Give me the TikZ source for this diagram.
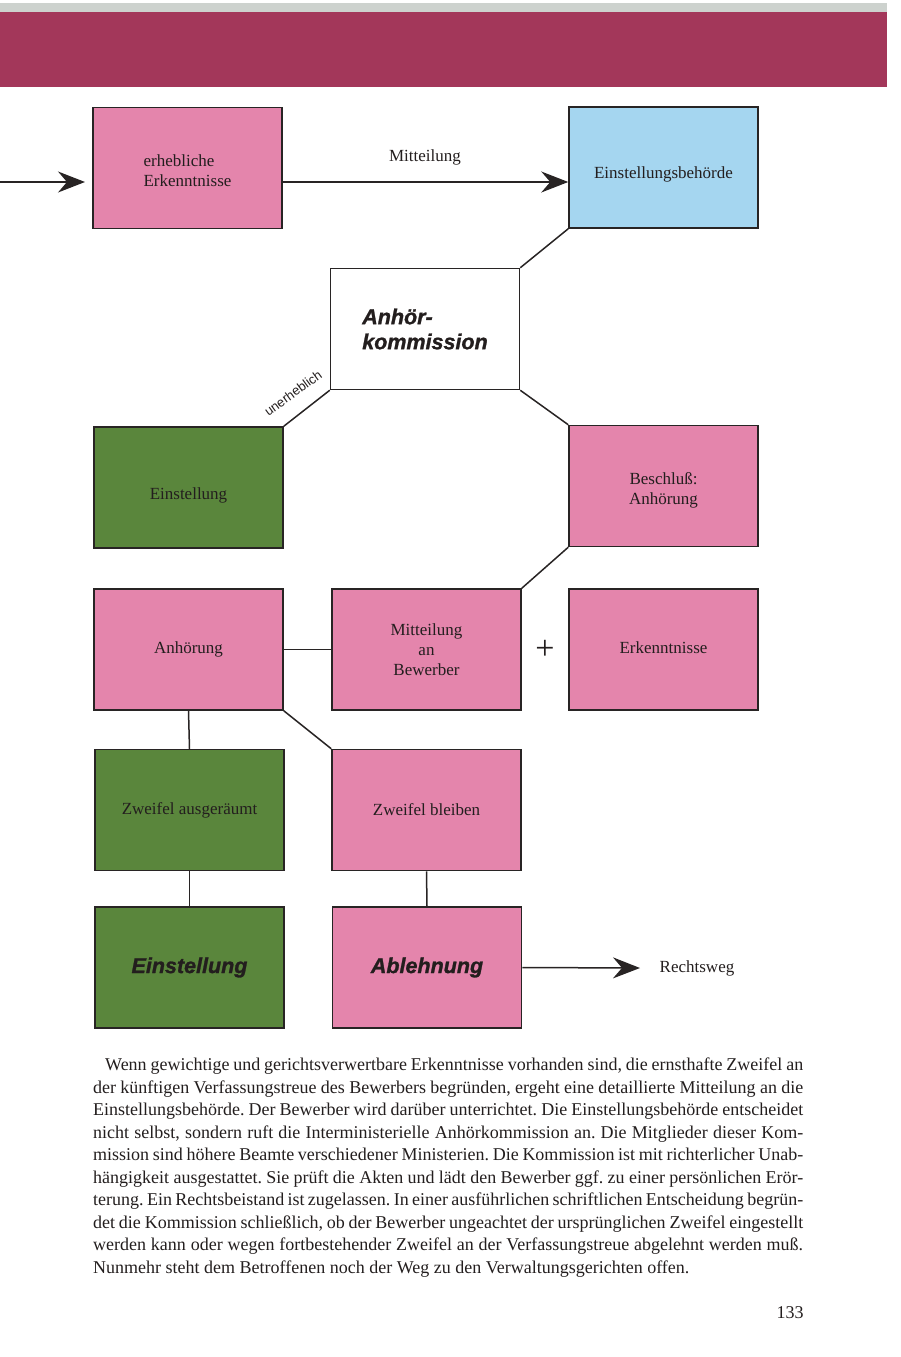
\documentclass[tikz,border=0pt]{standalone}
\usepackage{fontspec}
\setmainfont{Liberation Serif}
\newfontfamily\helv{Liberation Sans}
\newfontfamily\helvblk{Liberation Sans Bold Italic}[FakeBold=1.2]
\usetikzlibrary{arrows.meta}
\definecolor{barc}{RGB}{163,55,90}
\definecolor{stripc}{RGB}{205,210,206}
\definecolor{pinkc}{RGB}{228,133,172}
\definecolor{bluec}{RGB}{165,214,240}
\definecolor{greenc}{RGB}{90,134,60}
\definecolor{edgec}{RGB}{40,36,36}
\definecolor{txtc}{RGB}{35,30,30}
\newcommand{\lowered}[2]{\raisebox{-#1}[\height][\depth]{#2}}
\tikzset{
  box/.style={draw=edgec, line width=1.5pt, minimum width=189pt, minimum height=121pt,
    inner sep=0pt, text=txtc, font=\fontsize{17}{20}\selectfont, align=center},
  pinkbox/.style={box, fill=pinkc},
  greenbox/.style={box, fill=greenc},
  bluebox/.style={box, fill=bluec},
  whitebox/.style={box, fill=white},
  heavy/.style={font=\helvblk\fontsize{21.5}{25}\selectfont},
  conn/.style={draw=edgec, line width=1.5pt},
  arr/.style={conn, -{Stealth[length=27pt, width=21pt, inset=9pt]}},
  lbl/.style={text=txtc, inner sep=0pt, font=\fontsize{17}{20}\selectfont}
}
\begin{document}
\begin{tikzpicture}[x=1pt,y=-1pt]
\useasboundingbox (0,0) rectangle (900,1357);
\fill[stripc] (0,3) rectangle (887,12);
\fill[barc] (0,12) rectangle (887,87);

\node[pinkbox] (b1) at (187.5,168) {\lowered{4pt}{\begin{tabular}{@{}l@{}}erhebliche\\Erkenntnisse\end{tabular}}};
\node[bluebox] (b2) at (663.5,167.5) {\lowered{7pt}{Einstellungsbehörde}};
\node[whitebox, heavy, align=left] (b3) at (425,329) {Anhör-\\kommission};
\node[greenbox] (b4) at (188.5,487.5) {\lowered{8pt}{Einstellung}};
\node[pinkbox] (b5) at (663.5,486) {\lowered{4pt}{\begin{tabular}{@{}c@{}}Beschluß:\\Anhörung\end{tabular}}};
\node[pinkbox] (b6) at (188.5,649.5) {Anhörung};
\node[pinkbox] (b7) at (426.5,649.5) {Mitteilung\\an\\Bewerber};
\node[pinkbox] (b8) at (663.5,649.5) {\lowered{-2pt}{Erkenntnisse}};
\node[greenbox] (b9) at (189.5,810) {Zweifel ausgeräumt};
\node[pinkbox] (b10) at (426.5,810) {Zweifel bleiben};
\node[greenbox, heavy] (b11) at (189.5,967.5) {Einstellung};
\node[pinkbox, heavy] (b12) at (427,967.5) {Ablehnung};

\coordinate (start) at (0,182);
\coordinate (tip1) at (85,182);
\coordinate (tip3) at (640,968);
\draw[arr] (start) -- (tip1);
\draw[arr] (b1.east |- start) -- (b2.west |- start);
\node[lbl] (mit) at (425,157) {Mitteilung};

\draw[conn] (b2.south west) -- (b3.north east);
\draw[conn] (b3.south west) -- (b4.north east);
\node[text=txtc, inner sep=0pt, rotate=36, font=\helv\fontsize{13}{15}\selectfont] (uner) at (293,393) {unerheblich};
\draw[conn] (b3.south east) -- (b5.north west);
\draw[conn] (b5.south west) -- (b7.north east);
\draw[conn] (b6.east) -- (b7.west);
\node[text=txtc, inner sep=0pt, font=\fontsize{34}{34}\selectfont] (plus) at (545,650) {+};
\draw[conn] (b6.south) -- (b9.north);
\draw[conn] (b6.south east) -- (b10.north west);
\draw[conn] (b9.south) -- (b11.north);
\draw[conn] (b10.south) -- (b12.north);
\draw[arr] (b12.east) -- (tip3);
\node[lbl] (rw) at (697,968) {Rechtsweg};

\node[anchor=north west, inner sep=0pt, text width=710pt, align=justify, text=txtc,
  font=\fontsize{18}{22.5}\selectfont] (body) at (93,1055) {%
\frenchspacing\tolerance=10000\emergencystretch=20pt\hyphenpenalty=10000
\spaceskip=0.25em plus 0.25em minus 0.12em\parindent=12pt\indent\strut
Wenn gewichtige und gerichtsverwertbare Erkenntnisse vorhanden sind, die ernsthafte Zweifel an\linebreak
der künftigen Verfassungstreue des Bewerbers begründen, ergeht eine detaillierte Mitteilung an die\linebreak
Einstellungsbehörde. Der Bewerber wird darüber unterrichtet. Die Einstellungsbehörde entscheidet\linebreak
nicht selbst, sondern ruft die Interministerielle Anhörkommission an. Die Mitglieder dieser Kom-\linebreak
mission sind höhere Beamte verschiedener Ministerien. Die Kommission ist mit richterlicher Unab-\linebreak
hängigkeit ausgestattet. Sie prüft die Akten und lädt den Bewerber ggf. zu einer persönlichen Erör-\linebreak
terung. Ein Rechtsbeistand ist zugelassen. In einer ausführlichen schriftlichen Entscheidung begrün-\linebreak
det die Kommission schließlich, ob der Bewerber ungeachtet der ursprünglichen Zweifel eingestellt\linebreak
werden kann oder wegen fortbestehender Zweifel an der Verfassungstreue abgelehnt werden muß.\linebreak
Nunmehr steht dem Betroffenen noch der Weg zu den Verwaltungsgerichten offen.};
\node[text=txtc, inner sep=0pt, font=\fontsize{18}{20}\selectfont] (page) at (790,1313) {133};
\end{tikzpicture}
\end{document}
